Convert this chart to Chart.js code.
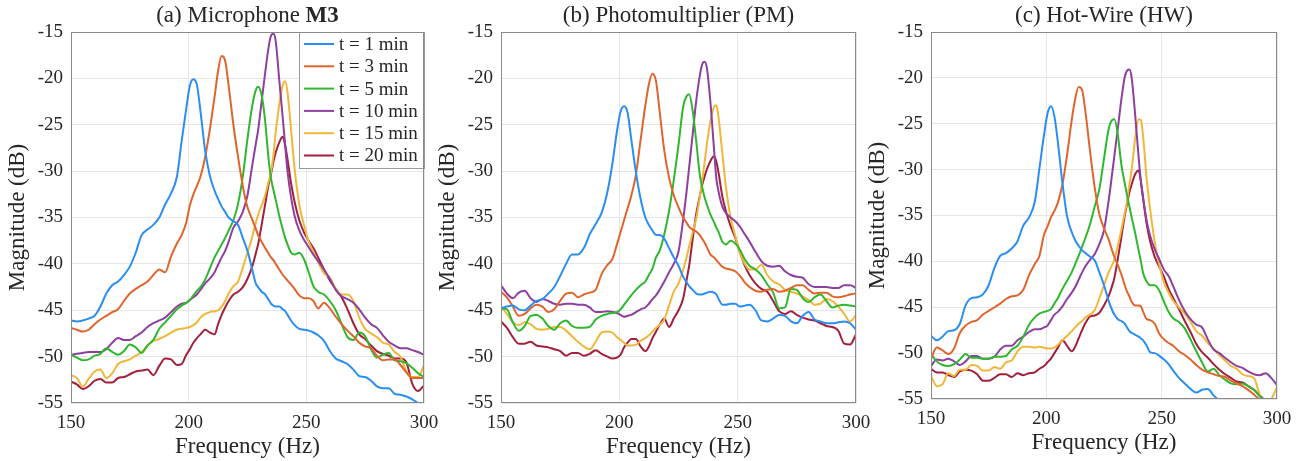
<!DOCTYPE html>
<html><head><meta charset="utf-8">
<script src="https://cdn.jsdelivr.net/npm/chart.js@4/dist/chart.umd.min.js"></script>
<style>
html,body{margin:0;padding:0;background:#fff;}
body{width:1309px;height:461px;position:relative;overflow:hidden;}
.panel{position:absolute;top:0;height:461px;}
</style></head><body>
<div class="panel" style="left:0;width:440px"><canvas id="cA"></canvas></div>
<div class="panel" style="left:430px;width:440px"><canvas id="cB"></canvas></div>
<div class="panel" style="left:860px;width:449px"><canvas id="cC"></canvas></div>
<script>
// ---------- data ----------
const freqHz = [150,152.5,155,157.5,160,162.5,165,167.5,170,172.5,
175,177.5,180,182.5,185,187.5,190,192.5,195,197,
199,200.5,202,203.5,205,207,209,211,212.5,214,
215.5,217,219,221,223,225,227,228.5,229.5,231,
232.5,234,235,236,237,238.5,240,241,242,243.5,
245,247,249,251,253,255,257.5,260,262.5,265,
267.5,270,272.5,275,277.5,280,282.5,285,287.5,290,
292.5,295,297.5,300];
const xTicks = [150,200,250,300];
const yTicks = [-15,-20,-25,-30,-35,-40,-45,-50,-55];
const seriesLabels = ['t = 1 min','t = 3 min','t = 5 min','t = 10 min','t = 15 min','t = 20 min'];

// (a) Microphone M3
const micT1 = [-46.1,-46.2,-46.1,-45.9,-45.6,-44.6,-43.2,-42.3,-41.9,-41.2,
-40.3,-38.8,-36.9,-36.3,-35.8,-35.0,-33.6,-32.4,-30.6,-26.8,
-23.2,-20.8,-20.1,-20.7,-23.5,-27.8,-30.5,-32.1,-33.0,-33.8,
-34.4,-35.0,-35.4,-35.8,-37.2,-38.6,-40.6,-42.1,-42.5,-43.0,
-43.3,-43.9,-44.3,-44.5,-44.6,-44.6,-44.9,-45.1,-45.5,-46.1,
-46.6,-47.0,-47.1,-47.2,-47.4,-47.7,-48.3,-49.4,-50.2,-50.5,
-50.8,-51.4,-52.1,-52.2,-52.6,-53.2,-53.4,-53.4,-54.0,-54.1,
-54.3,-54.6,-55.0,-55.4];
const micT3 = [-46.9,-47.1,-47.3,-47.1,-46.5,-46.0,-45.6,-45.2,-44.9,-44.0,
-43.2,-42.7,-42.3,-41.9,-41.2,-40.6,-40.9,-39.2,-37.8,-36.9,
-35.5,-33.7,-32.5,-31.6,-30.6,-28.5,-25.5,-22.0,-19.2,-17.6,
-18.1,-20.8,-25.0,-28.5,-31.6,-33.9,-35.2,-36.2,-36.9,-37.6,
-38.3,-38.9,-39.3,-39.6,-40.0,-40.6,-41.2,-41.5,-41.8,-42.2,
-42.7,-43.4,-43.7,-43.7,-44.0,-44.8,-44.2,-44.8,-45.7,-46.5,
-47.2,-47.8,-48.5,-48.9,-49.1,-49.9,-50.4,-50.3,-50.3,-50.9,
-51.7,-52.3,-52.3,-52.3];
const micT5 = [-49.8,-50.1,-50.4,-50.3,-49.9,-49.7,-49.1,-49.5,-49.8,-49.4,
-48.7,-49.0,-49.6,-48.8,-48.2,-47.0,-46.3,-45.6,-44.9,-44.5,
-44.2,-43.9,-43.4,-42.9,-42.5,-41.7,-40.5,-39.3,-38.6,-37.9,
-37.2,-36.4,-35.3,-33.5,-30.6,-26.5,-23.0,-21.3,-20.9,-21.8,
-24.6,-28.8,-30.8,-32.0,-33.1,-34.8,-36.3,-37.2,-37.9,-38.8,
-39.0,-38.8,-39.5,-40.9,-42.4,-43.0,-43.3,-44.0,-45.0,-46.5,
-47.9,-48.2,-47.4,-47.8,-49.2,-50.1,-49.8,-49.6,-50.4,-50.5,
-50.7,-51.2,-51.8,-52.2];
const micT10 = [-49.8,-49.7,-49.6,-49.5,-49.5,-49.5,-49.2,-48.5,-48.0,-48.2,
-48.2,-47.8,-47.4,-46.8,-46.4,-46.1,-45.8,-45.2,-44.6,-44.3,
-44.2,-43.9,-43.6,-43.3,-42.8,-42.1,-41.6,-40.9,-40.1,-39.3,
-38.6,-37.6,-36.1,-35.4,-34.4,-32.6,-29.4,-27.1,-25.6,-22.5,
-19.4,-16.6,-15.4,-15.2,-16.0,-20.2,-24.3,-27.2,-30.0,-32.8,
-34.8,-36.4,-37.4,-38.2,-39.0,-39.7,-40.6,-41.6,-42.8,-43.5,
-43.8,-44.2,-44.9,-45.8,-46.5,-46.9,-47.7,-48.4,-48.8,-49.1,
-49.1,-49.3,-49.5,-49.8];
const micT15 = [-52.0,-52.3,-53.2,-52.4,-51.6,-51.4,-52.3,-51.8,-50.8,-50.5,
-50.3,-49.9,-49.5,-48.8,-48.3,-48.1,-47.8,-47.4,-47.1,-47.0,
-46.9,-46.8,-46.6,-46.3,-45.8,-45.4,-45.2,-45.1,-45.0,-44.6,
-44.0,-43.2,-42.4,-41.9,-40.4,-38.8,-37.1,-35.6,-34.7,-33.7,
-32.6,-31.1,-30.1,-28.3,-25.8,-22.8,-20.7,-20.3,-21.5,-25.5,
-29.7,-33.6,-35.8,-37.6,-38.7,-39.8,-41.0,-41.5,-42.7,-43.3,
-43.3,-44.0,-45.8,-47.0,-47.5,-47.9,-48.5,-48.7,-49.5,-50.0,
-51.6,-52.2,-52.2,-50.9];
const micT20 = [-52.7,-53.0,-53.5,-53.2,-52.6,-52.4,-52.8,-52.8,-52.3,-52.2,
-51.9,-51.6,-51.5,-51.4,-52.0,-51.0,-50.2,-50.3,-50.9,-50.8,
-49.8,-49.2,-48.5,-48.0,-47.6,-47.1,-47.4,-47.6,-46.5,-45.5,
-44.7,-44.0,-43.3,-43.0,-42.5,-41.6,-40.3,-38.9,-37.9,-35.8,
-33.6,-31.4,-30.3,-29.0,-28.0,-26.9,-26.3,-27.2,-28.7,-31.3,
-33.3,-35.3,-36.6,-37.5,-38.3,-39.3,-40.6,-41.8,-42.7,-43.6,
-44.9,-46.4,-47.6,-48.1,-48.8,-49.4,-49.7,-49.9,-50.2,-50.2,
-50.6,-52.9,-53.7,-53.1];

// (b) Photomultiplier (PM)
const pmT1 = [-44.8,-44.6,-44.5,-44.9,-45.0,-44.5,-44.0,-43.8,-43.2,-42.5,
-41.3,-40.0,-39.0,-39.0,-38.3,-36.8,-35.7,-34.5,-32.2,-29.3,
-25.7,-23.6,-23.0,-23.7,-26.5,-30.1,-33.0,-35.0,-35.8,-36.4,
-36.9,-36.9,-37.3,-38.3,-39.3,-40.2,-41.4,-42.0,-42.4,-42.8,
-43.2,-43.3,-43.3,-43.2,-43.1,-43.0,-43.1,-43.3,-43.8,-44.4,
-44.4,-44.3,-44.3,-44.6,-44.5,-44.4,-45.0,-46.1,-46.2,-45.9,
-45.5,-45.6,-46.2,-46.4,-45.6,-45.2,-46.0,-46.2,-46.4,-46.4,
-46.3,-46.2,-46.4,-47.1];
const pmT3 = [-43.0,-43.6,-44.6,-45.6,-45.4,-44.8,-44.4,-44.6,-45.2,-44.9,
-44.0,-43.2,-43.1,-43.6,-43.3,-43.1,-42.8,-41.1,-40.1,-39.5,
-37.9,-36.6,-35.3,-34.0,-32.7,-30.4,-26.6,-22.9,-20.6,-19.5,
-20.3,-23.5,-27.8,-30.7,-32.6,-33.9,-35.0,-35.6,-36.0,-36.3,
-36.5,-36.9,-37.3,-37.7,-38.2,-39.0,-39.3,-39.6,-39.9,-40.3,
-40.5,-40.6,-40.8,-41.3,-42.0,-42.5,-42.9,-43.0,-42.8,-42.7,
-43.0,-42.9,-42.6,-42.3,-42.3,-42.8,-43.2,-43.1,-43.1,-43.5,
-43.6,-43.5,-43.3,-43.2];
const pmT5 = [-44.8,-44.9,-46.3,-47.2,-46.7,-45.6,-45.5,-45.9,-46.7,-47.1,
-46.4,-46.1,-46.7,-46.9,-46.9,-46.8,-46.0,-45.6,-45.4,-45.3,
-45.2,-44.9,-44.4,-43.9,-43.4,-42.8,-42.3,-41.9,-41.2,-40.5,
-39.3,-38.6,-36.8,-34.3,-31.0,-27.2,-23.0,-21.9,-21.7,-23.5,
-26.8,-30.4,-31.7,-32.8,-33.6,-34.7,-35.5,-36.1,-36.6,-37.6,
-37.9,-37.5,-37.8,-38.5,-39.5,-40.2,-40.6,-41.2,-42.2,-43.1,
-44.8,-44.7,-42.7,-42.8,-43.7,-44.1,-43.6,-43.3,-44.0,-44.7,
-44.5,-44.4,-44.5,-44.6];
const pmT10 = [-42.3,-43.2,-43.7,-43.1,-42.9,-43.7,-44.1,-43.8,-44.0,-44.3,
-44.4,-44.3,-44.3,-44.4,-44.4,-44.7,-45.2,-45.2,-45.1,-45.2,
-45.3,-45.5,-45.7,-45.6,-45.5,-45.2,-44.9,-44.7,-44.3,-43.8,
-43.4,-42.8,-41.9,-40.9,-40.0,-38.7,-35.2,-32.0,-29.6,-26.0,
-22.4,-19.7,-18.5,-18.2,-18.9,-22.6,-27.6,-30.8,-32.3,-33.8,
-34.5,-35.0,-35.4,-36.0,-36.8,-37.6,-38.7,-39.7,-40.2,-40.3,
-40.2,-40.8,-41.2,-41.4,-41.5,-42.2,-42.5,-42.5,-42.5,-42.6,
-42.6,-42.3,-42.3,-42.6];
const pmT15 = [-44.6,-45.4,-46.3,-46.6,-46.3,-46.5,-47.0,-47.1,-47.0,-46.8,
-46.8,-47.2,-47.8,-48.4,-48.9,-49.2,-48.4,-47.4,-47.3,-47.4,
-47.9,-48.2,-48.5,-48.8,-48.8,-48.7,-48.3,-48.0,-47.7,-47.3,
-46.9,-46.6,-46.0,-44.5,-43.0,-42.1,-40.6,-39.2,-38.1,-36.6,
-35.1,-32.8,-31.0,-29.1,-27.1,-24.6,-23.1,-22.9,-24.4,-28.0,
-31.6,-35.0,-37.0,-38.9,-40.0,-40.6,-40.6,-40.1,-41.2,-41.9,
-42.2,-42.8,-43.0,-43.2,-43.5,-43.9,-44.4,-44.3,-43.8,-44.0,
-44.6,-45.4,-46.2,-45.5];
const pmT20 = [-46.2,-46.9,-47.9,-48.6,-48.6,-48.4,-48.8,-48.9,-49.0,-49.2,
-49.4,-49.9,-49.6,-49.6,-49.9,-49.7,-49.3,-49.7,-50.0,-50.2,
-50.1,-49.8,-49.0,-48.5,-48.1,-48.1,-48.9,-49.4,-48.9,-48.0,
-47.3,-46.6,-45.9,-46.8,-45.9,-45.0,-43.7,-41.6,-40.2,-37.3,
-34.6,-32.7,-31.5,-30.6,-29.8,-28.9,-28.4,-29.0,-30.3,-32.7,
-34.3,-35.9,-37.2,-38.8,-40.2,-41.2,-42.1,-42.7,-43.0,-44.0,
-45.1,-45.4,-45.1,-45.5,-45.8,-46.0,-46.1,-46.4,-46.7,-46.8,
-47.2,-48.6,-48.7,-47.6];

// (c) Hot-Wire (HW)
const hwT1 = [-48.1,-48.6,-48.2,-47.6,-47.5,-46.8,-44.8,-44.0,-43.9,-43.6,
-42.6,-40.7,-39.4,-39.1,-38.6,-37.8,-36.1,-35.2,-33.5,-29.9,
-26.2,-23.9,-23.1,-24.2,-27.0,-31.5,-35.1,-36.8,-37.7,-38.3,
-38.8,-39.1,-39.5,-39.9,-41.2,-42.6,-44.3,-45.3,-45.8,-46.3,
-46.5,-46.8,-47.2,-47.6,-47.8,-48.0,-48.2,-48.4,-48.6,-49.2,
-49.9,-50.0,-50.3,-50.7,-51.2,-51.9,-52.7,-53.3,-53.9,-54.3,
-54.0,-53.9,-54.6,-55.2,-55.8,-56.3,-56.8,-57.2,-57.6,-58.0,
-58.3,-58.6,-58.9,-59.2];
const hwT3 = [-50.6,-49.4,-49.7,-50.1,-49.5,-47.8,-47.0,-46.6,-46.4,-45.8,
-45.4,-45.0,-44.6,-44.1,-43.8,-43.7,-43.1,-41.5,-40.3,-39.4,
-37.1,-36.2,-35.2,-34.5,-33.6,-31.6,-28.4,-24.6,-22.3,-21.0,
-21.3,-23.8,-28.1,-32.0,-34.9,-36.4,-37.6,-38.8,-39.5,-40.4,
-41.4,-42.6,-43.3,-43.8,-44.4,-44.8,-44.8,-44.9,-45.5,-46.3,
-46.4,-46.8,-47.9,-48.5,-48.9,-49.2,-49.8,-50.2,-50.7,-51.3,
-51.8,-52.1,-52.3,-52.5,-52.6,-53.0,-53.3,-53.6,-54.0,-54.5,
-55.1,-55.6,-56.0,-56.4];
const hwT5 = [-50.1,-50.9,-51.3,-51.4,-51.2,-50.7,-50.1,-50.5,-50.5,-50.6,
-50.6,-50.4,-50.4,-50.3,-49.6,-49.2,-48.2,-46.9,-46.1,-45.7,
-45.5,-45.4,-45.2,-44.6,-44.0,-43.0,-42.1,-41.2,-40.3,-39.4,
-38.4,-37.4,-35.9,-34.0,-32.1,-28.8,-25.6,-24.6,-24.5,-26.2,
-29.4,-31.5,-32.8,-34.0,-35.2,-36.9,-38.8,-40.0,-41.3,-42.2,
-42.6,-42.6,-43.2,-44.4,-45.5,-46.2,-46.6,-47.3,-48.5,-49.8,
-51.0,-52.0,-51.7,-52.4,-52.9,-53.3,-53.4,-53.3,-53.6,-54.0,
-54.7,-55.2,-55.6,-56.0];
const hwT10 = [-51.4,-50.7,-50.8,-50.6,-50.9,-51.3,-50.9,-50.3,-50.3,-50.6,
-50.6,-50.4,-49.6,-49.2,-49.2,-48.6,-48.2,-47.7,-47.4,-47.4,
-47.2,-47.0,-46.4,-45.8,-45.5,-44.9,-44.1,-43.4,-42.8,-42.0,
-41.2,-40.5,-39.8,-39.2,-38.1,-36.6,-33.4,-30.5,-28.5,-25.5,
-22.4,-19.9,-19.2,-19.1,-20.0,-24.0,-28.6,-31.3,-33.2,-35.6,
-37.2,-38.7,-39.8,-40.9,-41.6,-42.7,-44.2,-45.4,-46.3,-46.9,
-47.2,-48.5,-49.6,-50.0,-50.5,-51.0,-51.4,-51.6,-52.0,-52.3,
-52.4,-52.2,-52.7,-53.5];
const hwT15 = [-52.5,-53.6,-53.4,-52.2,-52.5,-51.8,-51.8,-51.3,-51.4,-51.9,
-51.9,-51.5,-51.7,-51.0,-50.8,-49.8,-49.3,-49.3,-49.4,-49.3,
-49.4,-49.5,-49.5,-49.4,-49.1,-48.6,-48.1,-47.6,-47.2,-46.8,
-46.5,-46.1,-45.8,-45.3,-44.0,-42.6,-41.2,-40.4,-39.8,-38.3,
-36.6,-34.7,-33.4,-31.6,-30.0,-26.6,-24.5,-24.6,-26.5,-31.0,
-34.3,-37.9,-40.4,-42.3,-43.4,-44.3,-45.0,-45.7,-46.6,-47.6,
-48.1,-48.9,-49.5,-50.2,-50.8,-51.4,-51.7,-52.3,-52.5,-52.7,
-54.5,-55.6,-55.0,-53.7];
const hwT20 = [-51.7,-52.1,-52.1,-52.4,-52.6,-52.0,-51.8,-51.9,-52.3,-53.0,
-53.0,-52.7,-52.3,-52.3,-52.6,-52.2,-52.4,-52.2,-52.1,-51.7,
-51.4,-51.0,-50.6,-50.0,-49.4,-48.6,-49.2,-49.8,-49.3,-48.4,
-47.5,-46.7,-46.0,-45.9,-45.6,-44.8,-43.8,-42.7,-41.8,-39.7,
-37.4,-35.0,-33.7,-32.5,-31.6,-30.5,-30.1,-31.3,-33.2,-35.9,
-37.8,-39.5,-40.6,-41.7,-43.0,-44.0,-45.2,-46.5,-47.7,-49.0,
-49.9,-50.5,-51.2,-51.8,-52.3,-52.7,-53.1,-53.2,-53.6,-54.0,
-54.6,-55.2,-55.6,-56.0];

// ---------- style ----------
const lineColors = ['#2a8ef2','#e0652d','#2fb82f','#8e3f9f','#f1b73a','#a3203d'];
const FONT = '"Liberation Serif", "Times New Roman", serif';
const TEXT = '#262626';

const framePlugin = {
  id: 'frameTitle',
  afterDraw(chart, args, opts) {
    const {ctx, chartArea: ca} = chart;
    ctx.save();
    if (opts.legend) {
      const w = 125, h = 136;
      const lx = ca.right - w, ly = ca.top;
      ctx.fillStyle = '#fff';
      ctx.fillRect(lx, ly, w, h);
      ctx.strokeStyle = '#9a9a9a';
      ctx.lineWidth = 1;
      ctx.strokeRect(Math.round(lx) + 0.5, Math.round(ly) + 0.5, w, h);
      ctx.font = '19px ' + FONT;
      ctx.textBaseline = 'middle';
      ctx.textAlign = 'left';
      chart.data.datasets.forEach((ds, i) => {
        const y = ly + 12 + 22.3 * i;
        ctx.strokeStyle = ds.borderColor;
        ctx.lineWidth = 2;
        ctx.beginPath(); ctx.moveTo(lx + 5, y); ctx.lineTo(lx + 35, y); ctx.stroke();
        ctx.fillStyle = TEXT;
        ctx.fillText(ds.label, lx + 40, y + 1);
      });
    }
    ctx.strokeStyle = '#8a8a8a';
    ctx.lineWidth = 1;
    ctx.strokeRect(Math.round(ca.left) + 0.5, Math.round(ca.top) + 0.5,
                   Math.round(ca.right - ca.left) - 1, Math.round(ca.bottom - ca.top) - 1);
    const parts = opts.title || [];
    const size = 23;
    let total = 0;
    parts.forEach(p => { ctx.font = (p.bold ? 'bold ' : '') + size + 'px ' + FONT; p.w = ctx.measureText(p.text).width; total += p.w; });
    let x = (ca.left + ca.right) / 2 - total / 2;
    ctx.fillStyle = TEXT;
    ctx.textBaseline = 'middle';
    ctx.textAlign = 'left';
    parts.forEach(p => { ctx.font = (p.bold ? 'bold ' : '') + size + 'px ' + FONT; ctx.fillText(p.text, x, 16); x += p.w; });
    ctx.restore();
  }
};

function makePanel(id, title, series, padRight, padBottom, legend) {
  const datasets = series.map((arr, i) => ({
    label: seriesLabels[i],
    data: freqHz.map((f, j) => ({x: f, y: arr[j]})),
    borderColor: lineColors[i],
    backgroundColor: lineColors[i],
    borderWidth: 2,
    pointRadius: 0,
    fill: false,
    cubicInterpolationMode: 'monotone',
    clip: 0
  }));
  return new Chart(document.getElementById(id), {
    type: 'line',
    data: {datasets},
    plugins: [framePlugin],
    options: {
      responsive: true,
      maintainAspectRatio: false,
      animation: false,
      events: [],
      layout: {padding: {top: 32, left: 0, right: padRight, bottom: padBottom}},
      plugins: {
        legend: {display: false},
        tooltip: {enabled: false},
        frameTitle: {title, legend}
      },
      scales: {
        x: {
          type: 'linear', min: 150, max: 300,
          afterBuildTicks: s => { s.ticks = xTicks.map(v => ({value: v})); },
          afterFit: s => { s.height = 58; s.paddingLeft = 0; s.paddingRight = 0; },
          grid: {color: '#e6e6e6', drawTicks: false},
          border: {display: false},
          ticks: {font: {family: FONT, size: 19}, color: TEXT, padding: 9, maxRotation: 0, autoSkip: false},
          title: {display: true, text: 'Frequency (Hz)', font: {family: FONT, size: 23, lineHeight: 1.2}, color: TEXT, padding: {top: 0, bottom: 0}}
        },
        y: {
          type: 'linear', min: -55, max: -15,
          afterBuildTicks: s => { s.ticks = yTicks.map(v => ({value: v})); },
          afterFit: s => { s.width = 71; s.paddingTop = 0; s.paddingBottom = 0; },
          grid: {color: '#e6e6e6', drawTicks: false},
          border: {display: false},
          ticks: {font: {family: FONT, size: 19}, color: TEXT, padding: 8},
          title: {display: true, text: 'Magnitude (dB)', font: {family: FONT, size: 23, lineHeight: 1.2}, color: TEXT, padding: {top: 4, bottom: 0}}
        }
      }
    }
  });
}

makePanel('cA', [{text: '(a) Microphone '}, {text: 'M3', bold: true}],
  [micT1, micT3, micT5, micT10, micT15, micT20], 16, 0, true);
makePanel('cB', [{text: '(b) Photomultiplier (PM)'}],
  [pmT1, pmT3, pmT5, pmT10, pmT15, pmT20], 14, 0, false);
makePanel('cC', [{text: '(c) Hot-Wire (HW)'}],
  [hwT1, hwT3, hwT5, hwT10, hwT15, hwT20], 32, 4, false);
</script>
</body></html>
